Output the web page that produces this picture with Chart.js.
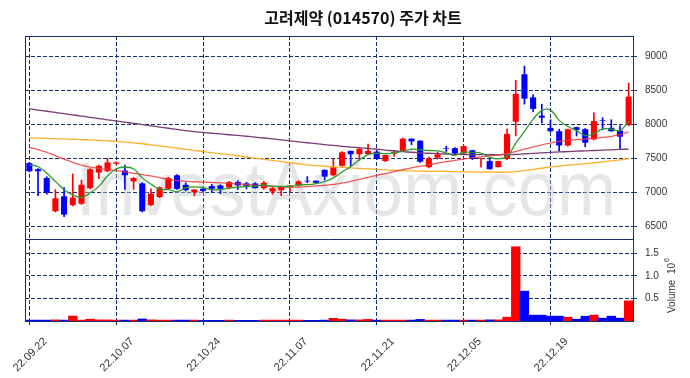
<!DOCTYPE html>
<html><head><meta charset="utf-8">
<script src="https://cdn.jsdelivr.net/npm/chart.js@4.4.0/dist/chart.umd.min.js"></script>
<style>html,body{margin:0;padding:0;background:#fff;}</style>
</head><body>
<canvas id="c" width="690" height="378"></canvas>
<script>
const dates = ["22.09.22","22.09.23","22.09.26","22.09.27","22.09.28","22.09.29","22.09.30",
"22.10.04","22.10.05","22.10.06","22.10.07","22.10.11","22.10.12","22.10.13","22.10.14",
"22.10.17","22.10.18","22.10.19","22.10.20","22.10.21","22.10.24","22.10.25","22.10.26","22.10.27","22.10.28","22.10.31",
"22.11.01","22.11.02","22.11.03","22.11.04","22.11.07","22.11.08","22.11.09","22.11.10","22.11.11",
"22.11.14","22.11.15","22.11.16","22.11.17","22.11.18","22.11.21","22.11.22","22.11.23","22.11.24","22.11.25",
"22.11.28","22.11.29","22.11.30","22.12.01","22.12.02","22.12.05","22.12.06","22.12.07","22.12.08","22.12.09",
"22.12.12","22.12.13","22.12.14","22.12.15","22.12.16","22.12.19","22.12.20","22.12.21","22.12.22","22.12.23",
"22.12.26","22.12.27","22.12.28","22.12.29","22.12.30"];
const openP  = [7430,7340,7210,6720,6940,6810,6830,7060,7290,7310,7420,7320,7160,7130,6810,6930,7050,7250,7110,7000,
7050,7090,7100,7070,7150,7130,7130,7060,7010,7030,7080,7100,7170,7170,7330,7250,7390,7610,7560,7560,
7600,7460,7570,7610,7790,7760,7370,7510,7650,7650,7570,7620,7490,7460,7370,7490,8040,8740,8400,8130,
7950,7900,7690,7960,7930,7780,8060,7950,7910,7990];
const highP  = [7440,7350,7230,7040,7070,7270,7180,7350,7400,7500,7450,7400,7220,7140,7050,7080,7220,7260,7140,7040,
7060,7120,7110,7160,7170,7150,7140,7160,7070,7080,7100,7170,7230,7170,7330,7490,7600,7610,7640,7710,
7610,7550,7620,7800,7790,7760,7520,7590,7680,7660,7690,7620,7500,7500,7460,7930,8650,8860,8440,8300,
8070,7930,7930,7960,7940,8170,8100,8070,7980,8610];
const lowP   = [7300,6950,6970,6710,6640,6800,6820,7050,7200,7300,7410,7040,7040,6710,6800,6920,7040,7040,7020,6950,
7010,7000,6980,7050,7040,7050,7060,7040,6970,6950,7000,7090,7140,7140,7180,7240,7380,7390,7470,7560,
7480,7450,7530,7610,7700,7440,7360,7490,7600,7560,7560,7480,7370,7340,7370,7480,7830,8300,8190,8020,
7890,7610,7680,7830,7670,7770,7920,7900,7630,7980];
const closeP = [7310,7310,6990,6910,6670,6920,7110,7340,7390,7440,7440,7250,7210,6720,6980,7070,7210,7050,7030,7040,
7020,7050,7050,7150,7100,7090,7060,7140,7060,7080,7100,7160,7160,7140,7230,7370,7590,7560,7640,7610,
7490,7550,7590,7790,7750,7450,7500,7560,7640,7570,7680,7490,7500,7340,7460,7860,8450,8380,8230,8100,
7900,7690,7930,7920,7730,8050,8050,7900,7820,8410];
const volume = [20000,20000,20000,25000,20000,110000,20000,40000,25000,25000,20000,20000,20000,45000,25000,20000,20000,20000,20000,20000,
15000,15000,15000,20000,15000,15000,15000,20000,20000,20000,20000,20000,15000,15000,20000,60000,40000,25000,25000,35000,
20000,20000,20000,20000,20000,35000,20000,20000,20000,20000,20000,20000,20000,25000,25000,85000,1648000,663000,130000,130000,
107000,107000,85000,40000,107000,130000,63000,107000,63000,448000];
const ma5   = [7404,7380,7282,7160,7038,6960,6920,6990,7086,7240,7344,7372,7346,7212,7120,7046,7038,7006,7068,7080,
7070,7038,7038,7062,7074,7088,7090,7108,7090,7086,7088,7108,7112,7128,7158,7212,7298,7378,7478,7554,
7578,7570,7576,7606,7634,7626,7616,7610,7580,7544,7590,7588,7576,7516,7494,7530,7722,7898,8076,8204,
8212,8060,7970,7908,7834,7864,7936,7930,7910,8046];
const ma20  = [7663,7630,7590,7540,7490,7440,7400,7370,7350,7335,7320,7300,7280,7260,7240,7215,7190,7170,7160,7155,
7150,7145,7138,7130,7122,7115,7105,7095,7085,7078,7072,7075,7082,7092,7103,7115,7135,7160,7190,7220,
7250,7275,7305,7335,7360,7382,7405,7428,7450,7470,7490,7508,7522,7535,7550,7570,7600,7635,7668,7700,
7725,7750,7765,7775,7785,7798,7810,7825,7850,7890];
const ma60  = [7800,7797,7794,7790,7786,7782,7777,7771,7765,7758,7751,7740,7728,7715,7700,7685,7668,7650,7633,7617,
7600,7585,7570,7555,7538,7520,7503,7486,7470,7452,7435,7420,7405,7393,7383,7375,7367,7359,7351,7344,
7337,7330,7324,7318,7314,7311,7309,7308,7306,7304,7302,7300,7298,7296,7295,7296,7305,7320,7338,7355,
7372,7385,7398,7410,7422,7435,7449,7463,7478,7495];
const ma120 = [8230,8212,8195,8177,8159,8141,8123,8105,8087,8069,8052,8034,8016,7998,7980,7962,7944,7926,7910,7895,
7882,7870,7860,7848,7838,7826,7813,7800,7787,7773,7758,7744,7730,7716,7702,7690,7678,7667,7656,7645,
7634,7622,7608,7598,7590,7582,7575,7569,7564,7560,7557,7555,7554,7553,7553,7554,7558,7565,7572,7580,
7588,7594,7600,7606,7611,7616,7621,7626,7631,7637];
const priceTicks = [6500,7000,7500,8000,8500,9000];
const volTicks = [500000,1000000,1500000];

const NAVY = '#12306e';
const UP = '#ff0000', DOWN = '#0000ff';
const candleColors = closeP.map((c,i)=> c >= openP[i] ? UP : DOWN);
const FONT = '"Liberation Sans", Arial, sans-serif';

const decor = {
  id: 'decor',
  beforeDatasetsDraw(chart) {
    const {ctx, chartArea} = chart;
    ctx.save();
    ctx.beginPath(); ctx.rect(chartArea.left, chartArea.top, chartArea.right-chartArea.left, chartArea.bottom-chartArea.top); ctx.clip();
    ctx.font = '76px ' + FONT;
    ctx.fillStyle = 'rgba(200,200,205,0.45)';
    ctx.textBaseline = 'alphabetic';
    const txt = 'InvestAxiom.com';
    const w = ctx.measureText(txt).width;
    ctx.translate(76, 215);
    ctx.scale(540 / w, 1);
    ctx.fillText(txt, 0, 0);
    ctx.restore();
  },
  afterDatasetsDraw(chart) {
    const {ctx, chartArea, scales} = chart;
    ctx.save();
    ctx.strokeStyle = NAVY; ctx.lineWidth = 1;
    const l = Math.round(chartArea.left)+0.5, t = Math.round(chartArea.top)+0.5;
    const r = Math.round(chartArea.right)+0.5, b = Math.round(chartArea.bottom)+0.5;
    ctx.strokeRect(l, t, r-l, b-t);
    const sep = Math.round(scales.y.bottom)+0.5;
    ctx.beginPath(); ctx.moveTo(l, sep); ctx.lineTo(r, sep); ctx.stroke();
    ctx.restore();
  },
  afterDraw(chart) {
    const {ctx} = chart;
    ctx.save();
    ctx.font = 'bold 16px "Noto Sans CJK KR", sans-serif';
    ctx.fillStyle = '#111';
    ctx.textAlign = 'center'; ctx.textBaseline = 'middle';
    ctx.fillText('고려제약 (014570) 주가 차트', 363, 18);
    ctx.translate(672, 313);
    ctx.rotate(-Math.PI/2);
    ctx.font = '10px ' + FONT;
    ctx.fillStyle = '#333';
    ctx.textAlign = 'left'; ctx.textBaseline = 'middle';
    ctx.fillText('Volume', 0, 0);
    let x = ctx.measureText('Volume  ').width;
    ctx.fillText('10', x, 0);
    x += ctx.measureText('10').width + 1;
    ctx.font = '7px ' + FONT;
    ctx.fillText('6', x, -5);
    ctx.restore();
  }
};

function gridOpts(extra) {
  return Object.assign({ color: NAVY, lineWidth: 1, tickLength: 4, tickColor: NAVY, drawTicks: true, drawOnChartArea: true }, extra || {});
}
function borderOpts() { return { display: true, color: NAVY, width: 1, dash: [4,2] }; }

new Chart(document.getElementById('c'), {
  type: 'bar',
  data: {
    labels: dates,
    datasets: [
      { type:'line', label:'MA5', data: ma5, yAxisID:'y', borderColor:'#2e9a2e', borderWidth:1.3, pointRadius:0, tension:0.35, order:0 },
      { type:'line', label:'MA20', data: ma20, yAxisID:'y', borderColor:'rgba(240,60,60,0.85)', borderWidth:1.3, pointRadius:0, tension:0.35, order:0 },
      { type:'line', label:'MA60', data: ma60, yAxisID:'y', borderColor:'#ffae2e', borderWidth:1.3, pointRadius:0, tension:0.35, order:0 },
      { type:'line', label:'MA120', data: ma120, yAxisID:'y', borderColor:'#7a3a78', borderWidth:1.3, pointRadius:0, tension:0.35, order:0 },
      { label:'body', data: openP.map((o,i)=>[o, closeP[i]]), yAxisID:'y', backgroundColor: candleColors, borderWidth:0,
        barPercentage:0.7, categoryPercentage:1, grouped:false, order:2 },
      { label:'wick', data: lowP.map((l,i)=>[l, highP[i]]), yAxisID:'y', backgroundColor: candleColors, borderWidth:0,
        barThickness:1, grouped:false, order:3 },
      { label:'vol', data: volume, yAxisID:'yv', backgroundColor: candleColors, borderWidth:0,
        barPercentage:1, categoryPercentage:1, grouped:false, order:4 }
    ]
  },
  options: {
    responsive:false, animation:false, devicePixelRatio:1,
    layout: { padding: { left:25, top:36, right:0, bottom:0 } },
    plugins: { legend:{display:false}, title:{display:false}, tooltip:{enabled:false} },
    scales: {
      x: {
        type:'category', offset:true,
        grid: gridOpts({ offset:false }),
        border: borderOpts(),
        ticks: { autoSkip:false, minRotation:45, maxRotation:45, labelOffset:16, padding:10,
          font:{ size:11, family:FONT }, color:'#333',
          callback: (v,i) => (i % 10 === 0 ? dates[i] : null) },
        afterFit: s => { s.height = 57; s.paddingLeft = 0; s.paddingRight = 0; }
      },
      y: {
        type:'linear', position:'right', stack:'s', stackWeight:203, min:6310, max:9305,
        grid: gridOpts(), border: borderOpts(),
        ticks: { autoSkip:false, padding:8, font:{ size:10, family:FONT }, color:'#333',
          callback: v => String(v) },
        afterBuildTicks: s => { s.ticks = priceTicks.map(v => ({ value: v })); },
        afterFit: s => { s.width = 57; s.paddingTop = 0; s.paddingBottom = 0; }
      },
      yv: {
        type:'linear', position:'right', stack:'s', stackWeight:82, min:0, max:1820000,
        grid: gridOpts(), border: borderOpts(),
        ticks: { autoSkip:false, padding:8, font:{ size:10, family:FONT }, color:'#333',
          callback: v => (v/1e6).toFixed(1) },
        afterBuildTicks: s => { s.ticks = volTicks.map(v => ({ value: v })); },
        afterFit: s => { s.width = 57; s.paddingTop = 0; s.paddingBottom = 0; }
      }
    }
  },
  plugins: [decor]
});
</script>
</body></html>
